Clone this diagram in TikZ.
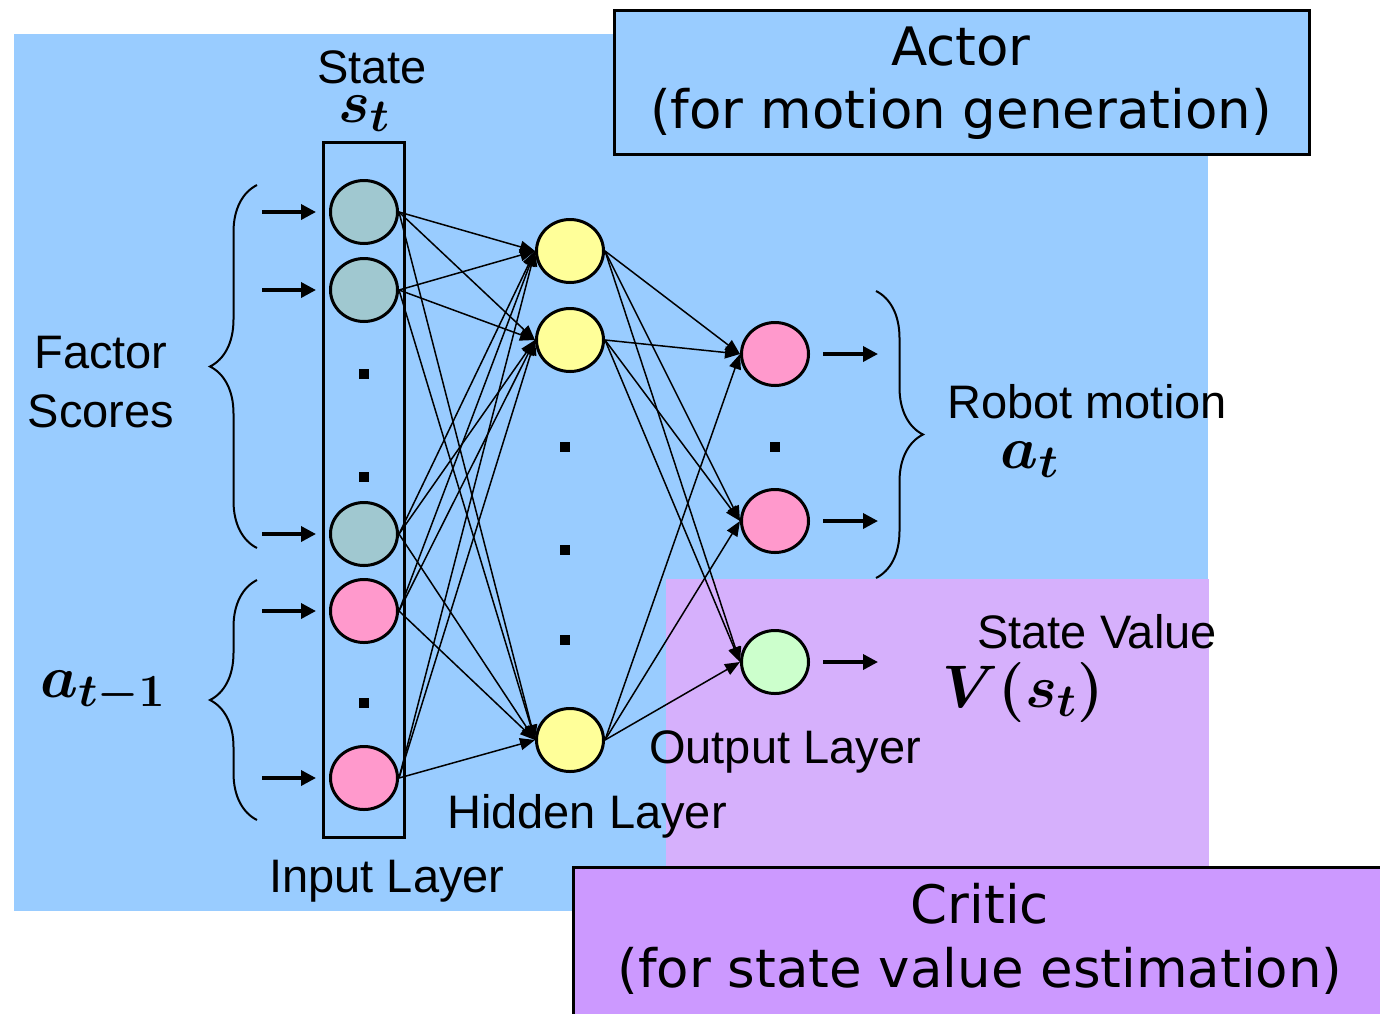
\documentclass[tikz,border=0pt]{standalone}
\usepackage{fix-cm}
\usepackage[no-math]{fontspec}
\setmainfont{Liberation Sans}
\newfontfamily\boxfont{DejaVu Sans}
\usetikzlibrary{arrows.meta,shapes.geometric,decorations.pathreplacing}
\DeclareMathSizes{30}{30}{23}{18}
\definecolor{bgblue}{HTML}{99CCFF}
\definecolor{lilac}{HTML}{D6B0FC}
\definecolor{criticfill}{HTML}{CC99FF}
\definecolor{greyteal}{HTML}{A0C8D0}
\definecolor{nodepink}{HTML}{FF99CC}
\definecolor{nodeyellow}{HTML}{FFFF99}
\definecolor{nodegreen}{HTML}{CCFFCC}

\begin{document}
\begin{tikzpicture}[x=0.5pt, y=-0.5pt,
    neuron/.style={ellipse, draw, line width=1.5pt, minimum width=33.5pt, minimum height=31.5pt, inner sep=0pt},
    dotmark/.style={fill=black, inner sep=0pt, minimum size=5pt},
    conn/.style={line width=0.75pt, -{Triangle[length=7.5pt,width=6pt]}},
    ioarrow/.style={line width=1.75pt, -{Triangle[length=7.5pt,width=7.5pt]}},
    curly/.style={decorate, decoration={brace, amplitude=23.5pt}, line width=1pt},
    lbl/.style={font=\fontsize{23.5}{28}\selectfont, anchor=base},
    mathlbl/.style={font=\fontsize{30}{35}\selectfont\boldmath, anchor=base},
    boxtxt/.style={font=\boxfont\fontsize{26.5}{32}\selectfont, anchor=base}]
    \useasboundingbox (0,0) rectangle (1380,1013);
    \fill[bgblue] (14,34) rectangle (1208,911);
    \fill[lilac] (666,579) rectangle (1209,866);
    \draw[line width=1.5pt, fill=bgblue] (614,10) rectangle (1309,154);
    \draw[line width=1.5pt, fill=criticfill] (573,867) rectangle (1390,1030);
    \draw[line width=1.5pt] (323.5,142.5) rectangle (404.5,837);

    \foreach \y/\c [count=\i] in {212/greyteal, 290/greyteal, 534/greyteal, 611/nodepink, 778/nodepink}
      \node[neuron, fill=\c] (in\i) at (364,\y) {};
    \foreach \y [count=\i] in {251, 340, 740}
      \node[neuron, fill=nodeyellow] (hid\i) at (570,\y) {};
    \foreach \y/\c [count=\i] in {354/nodepink, 521/nodepink, 662/nodegreen}
      \node[neuron, fill=\c] (out\i) at (775,\y) {};
    \foreach \x/\y [count=\i] in {364/374, 364/477, 364/703, 565/447, 565/550, 565/640, 775/447}
      \node[dotmark] (dot\i) at (\x,\y) {};

    \foreach \i in {1,...,5}
      \foreach \j in {1,2,3}
        \draw[conn] (in\i.east) -- (hid\j.west);
    \foreach \i in {1,2,3}
      \foreach \j in {1,2,3}
        \draw[conn] (hid\i.east) -- (out\j.west);
    \foreach \i in {1,...,5}
      \draw[ioarrow] ([xshift=-33.5pt]in\i.west) -- ([xshift=-6.5pt]in\i.west);
    \foreach \i in {1,2,3}
      \draw[ioarrow] ([xshift=6.5pt]out\i.east) -- ([xshift=34pt]out\i.east);

    \draw[curly] (257,548) -- (257,185);
    \draw[curly] (257,820) -- (257,580);
    \draw[curly] (876,291) -- (876,578);

    \node[lbl] (statelbl) at (372,83) {State};
    \node[mathlbl] (stmath) at (364,122) {$s_t$};
    \node[lbl] (factor) at (101,368) {Factor};
    \node[lbl] (scores) at (101,427) {Scores};
    \node[mathlbl] (prevact) at (103,697) {$a_{t-1}$};
    \node[lbl] (robot) at (1087,418) {Robot motion};
    \node[mathlbl] (act) at (1030,468) {$a_t$};
    \node[lbl] (stval) at (1097,648) {State Value};
    \node[mathlbl] (vst) at (1023,707) {$V(s_t)$};
    \node[lbl] (outlbl) at (785,763) {Output Layer};
    \node[lbl] (hidlbl) at (587,828) {Hidden Layer};
    \node[lbl] (inlbl) at (387,892) {Input Layer};
    \node[boxtxt] (actor) at (961,65) {Actor};
    \node[boxtxt] (actorsub) at (961,128) {(for motion generation)};
    \node[boxtxt] (critic) at (980,923) {Critic};
    \node[boxtxt] (criticsub) at (980,987) {(for state value estimation)};
\end{tikzpicture}
\end{document}
